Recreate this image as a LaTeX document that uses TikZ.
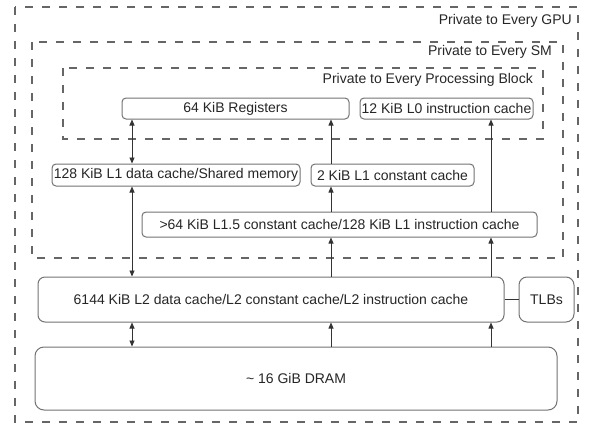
\documentclass[tikz,border=0pt]{standalone}
\usepackage{fontspec}
\setmainfont{Liberation Sans}
\usetikzlibrary{arrows.meta}
\begin{document}
\begin{tikzpicture}[x=1pt,y=-1pt,
  region/.style={draw=black!60,line width=1.1pt,dash pattern=on 8pt off 9pt},
  cachebox/.style={draw=black!55,line width=1pt,rounded corners=4pt,fill=white,
    font=\fontsize{14}{16}\selectfont,text=black!85,inner sep=0pt},
  lbl/.style={font=\fontsize{14}{16}\selectfont,text=black!85,inner sep=0pt},
  conn/.style={draw=black!80,line width=0.8pt},
  tip/.style={-{Triangle[length=6pt,width=5pt]}},
  tips/.style={{Triangle[length=6pt,width=5pt]}-{Triangle[length=6pt,width=5pt]}}]
\useasboundingbox (0,0) rectangle (590,424);
% regions
\draw[region] (15,7) rectangle (578,422);
\draw[region] (32,42) rectangle (563,258);
\draw[region] (63,68) rectangle (543,139);
\node[lbl,anchor=east] (gpu) at (572,21) {Private to Every GPU};
\node[lbl,anchor=east] (sm) at (552,52) {Private to Every SM};
\node[lbl,anchor=east] (pb) at (533,80) {Private to Every Processing Block};
% boxes
\node[cachebox,minimum width=227pt,minimum height=21pt] (reg) at (235.5,108.5) {64 KiB Registers};
\node[cachebox,minimum width=173pt,minimum height=21pt] (lz) at (446.5,108.5) {12 KiB L0 instruction cache};
\node[cachebox,minimum width=248pt,minimum height=22pt] (ld) at (176,175) {128 KiB L1 data cache/Shared memory};
\node[cachebox,minimum width=163pt,minimum height=22pt] (lc) at (392.5,175) {2 KiB L1 constant cache};
\node[cachebox,minimum width=395pt,minimum height=25pt] (lf) at (339.5,224.5) {>64 KiB L1.5 constant cache/128 KiB L1 instruction cache};
\node[cachebox,rounded corners=7pt,minimum width=466pt,minimum height=45pt] (ltwo) at (271,299.5) {6144 KiB L2 data cache/L2 constant cache/L2 instruction cache};
\node[cachebox,rounded corners=8pt,minimum width=55pt,minimum height=45pt] (tlb) at (546.5,299.5) {TLBs};
\node[cachebox,rounded corners=9pt,minimum width=522pt,minimum height=63pt] (dram) at (296,378.5) {\char`~\ 16 GiB DRAM};
% arrow columns
\coordinate (colA) at (132,0);
\coordinate (colB) at (331,0);
\coordinate (colC) at (491,0);
% connectors
\draw[conn,tips] (reg.south -| colA) -- (ld.north -| colA);
\draw[conn,tips] (ld.south -| colA) -- (ltwo.north -| colA);
\draw[conn,tips] (ltwo.south -| colA) -- (dram.north -| colA);
\draw[conn,tip] (lc.north -| colB) -- (reg.south -| colB);
\draw[conn,tip] (lf.north -| colB) -- (lc.south -| colB);
\draw[conn,tip] (ltwo.north -| colB) -- (lf.south -| colB);
\draw[conn,tip] (dram.north -| colB) -- (ltwo.south -| colB);
\draw[conn,tip] (lf.north -| colC) -- (lz.south -| colC);
\draw[conn,tip] (ltwo.north -| colC) -- (lf.south -| colC);
\draw[conn,tip] (dram.north -| colC) -- (ltwo.south -| colC);
\draw[conn] (ltwo.east) -- (tlb.west);
\end{tikzpicture}
\end{document}
